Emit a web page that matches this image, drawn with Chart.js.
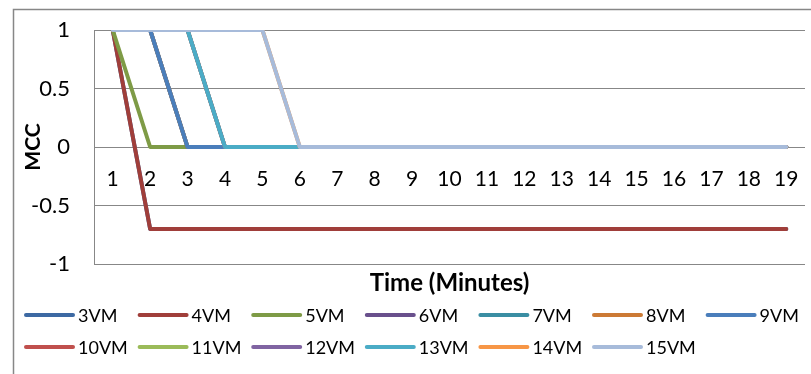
<!DOCTYPE html>
<html>
<head>
<meta charset="utf-8">
<script src="https://cdn.jsdelivr.net/npm/chart.js@4/dist/chart.umd.min.js"></script>
<style>
  html, body { margin: 0; padding: 0; background: #ffffff; }
  #wrap { width: 811px; height: 374px; position: relative; }
</style>
</head>
<body>
<div id="wrap"><canvas id="chart" width="811" height="374"></canvas></div>
<script>
// Time axis categories (minutes)
const minutes = ['1','2','3','4','5','6','7','8','9','10','11','12','13','14','15','16','17','18','19'];

// Y axis tick labels
const yTickLabels = { '1': '1', '0.5': '0.5', '0': '0', '-0.5': '-0.5', '-1': '-1' };

// MCC per number of VMs
const vm3  = [1, -0.7, -0.7, -0.7, -0.7, -0.7, -0.7, -0.7, -0.7, -0.7, -0.7, -0.7, -0.7, -0.7, -0.7, -0.7, -0.7, -0.7, -0.7];
const vm4  = [1, -0.7, -0.7, -0.7, -0.7, -0.7, -0.7, -0.7, -0.7, -0.7, -0.7, -0.7, -0.7, -0.7, -0.7, -0.7, -0.7, -0.7, -0.7];
const vm5  = [1, 0, 0, 0, 0, 0, 0, 0, 0, 0, 0, 0, 0, 0, 0, 0, 0, 0, 0];
const vm6  = [1, 1, 0, 0, 0, 0, 0, 0, 0, 0, 0, 0, 0, 0, 0, 0, 0, 0, 0];
const vm7  = [1, 1, 0, 0, 0, 0, 0, 0, 0, 0, 0, 0, 0, 0, 0, 0, 0, 0, 0];
const vm8  = [1, 1, 0, 0, 0, 0, 0, 0, 0, 0, 0, 0, 0, 0, 0, 0, 0, 0, 0];
const vm9  = [1, 1, 0, 0, 0, 0, 0, 0, 0, 0, 0, 0, 0, 0, 0, 0, 0, 0, 0];
const vm10 = [1, 1, 1, 0, 0, 0, 0, 0, 0, 0, 0, 0, 0, 0, 0, 0, 0, 0, 0];
const vm11 = [1, 1, 1, 0, 0, 0, 0, 0, 0, 0, 0, 0, 0, 0, 0, 0, 0, 0, 0];
const vm12 = [1, 1, 1, 0, 0, 0, 0, 0, 0, 0, 0, 0, 0, 0, 0, 0, 0, 0, 0];
const vm13 = [1, 1, 1, 0, 0, 0, 0, 0, 0, 0, 0, 0, 0, 0, 0, 0, 0, 0, 0];
const vm14 = [1, 1, 1, 1, 1, 0, 0, 0, 0, 0, 0, 0, 0, 0, 0, 0, 0, 0, 0];
const vm15 = [1, 1, 1, 1, 1, 0, 0, 0, 0, 0, 0, 0, 0, 0, 0, 0, 0, 0, 0];

const seriesNames  = ['3VM','4VM','5VM','6VM','7VM','8VM','9VM','10VM','11VM','12VM','13VM','14VM','15VM'];
const seriesValues = [vm3, vm4, vm5, vm6, vm7, vm8, vm9, vm10, vm11, vm12, vm13, vm14, vm15];
const seriesColors = ['#3D69A3','#A03E3A','#7E9B46','#69508C','#3A8EA3','#CC7A35',
                      '#4A7EBB','#C0504D','#9BBB59','#8064A2','#4BACC6','#F79646','#A7BBDA'];

const FONT = 'Lato, "Open Sans", sans-serif';
const GRID = '#878787';

// Outer frame of the chart
const framePlugin = {
  id: 'frame',
  beforeDraw(chart) {
    const ctx = chart.ctx;
    ctx.save();
    ctx.fillStyle = '#ffffff';
    ctx.fillRect(0, 0, chart.width, chart.height);
    ctx.strokeStyle = GRID;
    ctx.lineWidth = 1.5;
    ctx.strokeRect(13.5, 9.5, chart.width + 10, chart.height + 10);
    ctx.restore();
  }
};

// X axis title and the two-row legend below the plot
const bottomPlugin = {
  id: 'bottomText',
  afterDraw(chart) {
    const ctx = chart.ctx;
    const area = chart.chartArea;
    ctx.save();
    ctx.fillStyle = '#000000';
    ctx.font = 'bold 24px ' + FONT;
    ctx.textAlign = 'center';
    ctx.textBaseline = 'middle';
    ctx.fillText('Time (Minutes)', (area.left + area.right) / 2, 283);

    const perRow = 7, startX = 24, colW = 113.6, lineLen = 51;
    const rowY = [315, 347];
    ctx.font = '18px ' + FONT;
    ctx.textAlign = 'left';
    chart.data.datasets.forEach((ds, i) => {
      const x = startX + (i % perRow) * colW;
      const y = rowY[Math.floor(i / perRow)];
      ctx.strokeStyle = ds.borderColor;
      ctx.lineWidth = 4;
      ctx.lineCap = 'round';
      ctx.beginPath();
      ctx.moveTo(x + 2, y);
      ctx.lineTo(x + lineLen - 2, y);
      ctx.stroke();
      ctx.fillStyle = '#000000';
      ctx.fillText(ds.label, x + lineLen + 3, y + 1);
    });
    ctx.restore();
  }
};

new Chart(document.getElementById('chart'), {
  type: 'line',
  data: {
    labels: minutes,
    // later series are painted over earlier ones
    datasets: seriesNames.map((name, i) => ({
      label: name,
      data: seriesValues[i],
      borderColor: seriesColors[i],
      backgroundColor: seriesColors[i],
      order: seriesNames.length - i
    }))
  },
  options: {
    responsive: false,
    animation: false,
    layout: { padding: { left: 0, top: 30, right: 6, bottom: 110 } },
    elements: {
      line: { borderWidth: 4, tension: 0, borderCapStyle: 'round', borderJoinStyle: 'round', fill: false },
      point: { radius: 0, hoverRadius: 0 }
    },
    plugins: { legend: { display: false }, tooltip: { enabled: false } },
    scales: {
      x: {
        type: 'category',
        position: { y: 0 },
        offset: true,
        grid: { display: false },
        border: { display: false },
        ticks: { color: '#000000', font: { family: FONT, size: 21 }, padding: 12, maxRotation: 0, autoSkip: false }
      },
      y: {
        min: -1,
        max: 1,
        grid: { color: GRID, lineWidth: 1, drawTicks: false },
        border: { color: GRID, width: 1 },
        ticks: {
          stepSize: 0.5,
          color: '#000000',
          font: { family: FONT, size: 22 },
          padding: 24,
          callback: (v) => yTickLabels[String(v)]
        },
        title: { display: true, text: 'MCC', color: '#000000', font: { family: FONT, size: 21, weight: 'bold' }, padding: { top: 21, bottom: 0 } },
        afterFit(scale) {
          scale.width = 94;
          scale.paddingTop = 8;
          scale.paddingBottom = 8;
        }
      }
    }
  },
  plugins: [framePlugin, bottomPlugin]
});
</script>
</body>
</html>
